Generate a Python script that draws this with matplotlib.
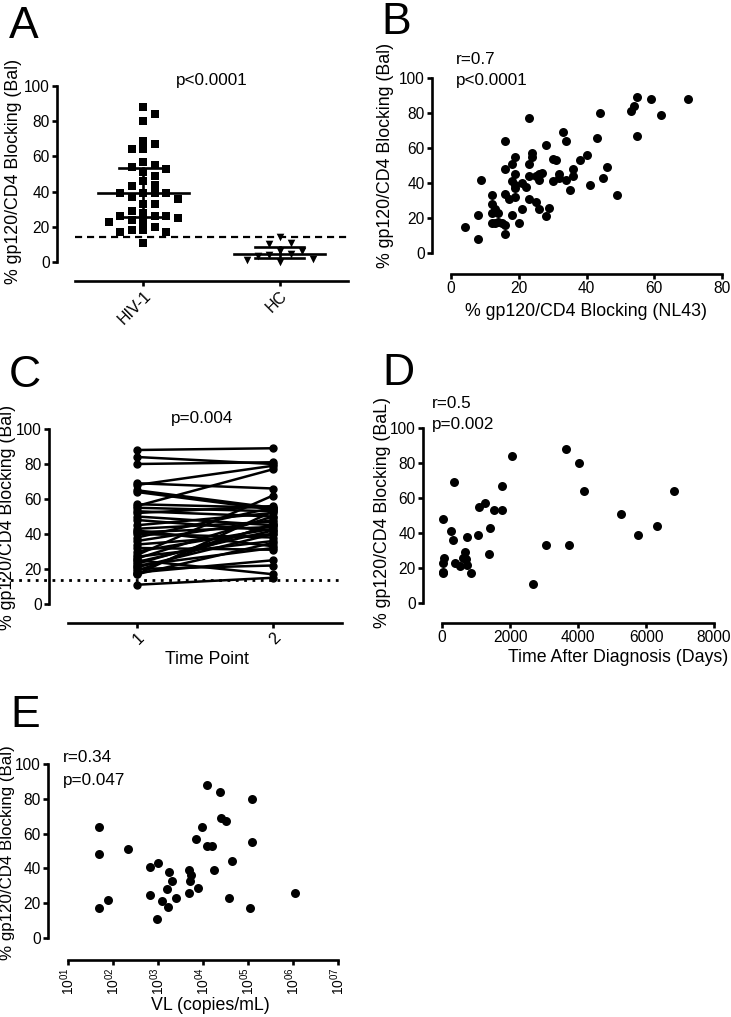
import numpy as np
import matplotlib
matplotlib.use("Agg")
import matplotlib.pyplot as plt
import matplotlib.transforms as mtransforms

plt.rcParams['font.family'] = ['Liberation Sans', 'DejaVu Sans']
plt.rcParams['mathtext.fontset'] = 'custom'
plt.rcParams['mathtext.rm'] = 'Liberation Sans'
plt.rcParams['mathtext.it'] = 'Liberation Sans:italic'

# ---------------- data ----------------
# Panel A
groups_A = ["HIV-1", "HC"]
hiv_vals = [88, 84, 80, 69, 67, 64, 64, 57, 55, 54, 53, 51, 49, 46, 44, 43, 39, 39, 39, 39,
            37, 36, 33, 33, 29, 28, 26, 26, 26, 25, 24, 23, 23, 20, 18, 18, 17, 17, 11]
hc_vals = [14, 11, 10, 6.5, 6, 4.5, 4, 3.5, 1.5, 1, 0]
cutoff_A = 14

# Panel B
nl43 = [4, 8, 8, 9, 12, 12, 12, 12, 13, 13, 14, 14, 15, 16, 16, 16, 16, 16, 17, 18, 18, 18,
        19, 19, 19, 19, 19, 20, 21, 21, 22, 23, 23, 23, 23, 24, 24, 25, 25, 26, 26, 26, 27, 28,
        28, 29, 30, 31, 30, 32, 32, 33, 34, 34, 35, 36, 36, 38, 40, 41, 43, 44, 45, 46, 49, 53,
        54, 55, 55, 59, 62, 70]
bal_B = [15, 8, 22, 42, 33, 28, 23, 17, 25, 17, 23, 18, 17, 11, 16, 64, 48, 34, 31, 22, 41, 51,
         45, 39, 32, 55, 37, 17, 25, 40, 38, 77, 51, 44, 31, 57, 55, 44, 29, 42, 25, 45, 46, 62,
         21, 26, 54, 53, 41, 45, 43, 69, 64, 42, 36, 48, 44, 53, 56, 39, 66, 80, 43, 49, 33, 81,
         84, 89, 67, 88, 79, 88]

# Panel C
timepoints = [1, 2]
tp1 = [88, 84, 80, 69, 68, 65, 64, 57, 56, 55, 53, 52, 50, 48, 45, 43, 42, 41, 40, 38, 36, 34,
       32, 30, 28, 27, 26, 25, 24, 23, 22, 21, 20, 19, 18, 17, 17, 11]
tp2 = [89, 80, 81, 66, 79, 55, 54, 55, 77, 53, 50, 56, 45, 42, 52, 47, 33, 44, 38, 55, 48, 40,
       31, 43, 62, 36, 50, 17, 42, 45, 32, 40, 22, 46, 25, 53, 35, 15]
cutoff_C = 14

# Panel D
days = [3638, 4020, 2059, 343, 1774, 4186, 6832, 1098, 1265, 1529, 1774, 5275, 39, 6333, 1412,
        255, 5765, 1068, 745, 324, 3059, 3735, 667, 1392, 627, 59, 715, 30, 373, 529, 745, 30,
        40, 853, 2686]
bal_D = [88, 80, 84, 69, 67, 64, 64, 55, 57, 53, 53, 51, 48, 44, 43, 41, 39, 39, 38, 36, 33, 33,
         29, 28, 26, 26, 25, 23, 23, 21, 22, 18, 17, 17, 11]

# Panel E
log_vl = [1.68, 1.68, 1.68, 1.88, 2.33, 2.82, 2.99, 2.82, 2.97, 3.08, 3.22, 3.19, 3.24, 3.30,
          3.39, 3.68, 3.68, 3.73, 3.71, 3.88, 3.84, 3.98, 4.08, 4.08, 4.21, 4.24, 4.38, 4.39,
          4.50, 4.65, 4.58, 5.04, 5.09, 5.09, 6.05]
bal_E = [64, 48, 17, 22, 51, 41, 43, 25, 11, 21, 18, 28, 38, 33, 23, 26, 39, 36, 33, 29, 57, 64,
         88, 53, 53, 39, 84, 69, 67, 44, 23, 17, 80, 55, 26]
vl_ticks = [1, 2, 3, 4, 5, 6, 7]

yticks = [0, 20, 40, 60, 80, 100]

# ---------------- figure ----------------
W, H = 731, 1017
DPI = 100
fig = plt.figure(figsize=(W / DPI, H / DPI), dpi=DPI)
PX = 72.0 / DPI  # points per pixel

FS_TICK = 11.2
FS_LAB = 12.8
FS_STAT = 12.3
LW = 1.9


def add_ax(left, right, top, bottom):
    return fig.add_axes([left / W, 1 - bottom / H, (right - left) / W, (bottom - top) / H])


def ftext(x, y, s, **kw):
    fig.text(x / W, 1 - y / H, s, **kw)


def style(ax, left_off, bottom_off):
    for s in ['top', 'right']:
        ax.spines[s].set_visible(False)
    ax.spines['left'].set_position(('outward', left_off * PX))
    ax.spines['bottom'].set_position(('outward', bottom_off * PX))
    ax.spines['left'].set_bounds(0, 100)
    for s in ['left', 'bottom']:
        ax.spines[s].set_linewidth(LW)
    ax.set_ylim(0, 100)
    ax.set_yticks(yticks)
    ax.tick_params(axis='both', direction='out', length=3.8, width=LW, labelsize=FS_TICK,
                   pad=1.5, color='black')
    ax.patch.set_visible(False)


def swarm(vals, center, xscale_px, yscale_px, dpx=12.0, xthr=10.0, ythr=7.0):
    order = np.argsort(vals)[::-1]
    placed = []
    xs = np.zeros(len(vals))
    cands = [0]
    for j in range(1, 10):
        cands += [j, -j]
    for i in order:
        y = vals[i] * yscale_px
        for c in cands:
            xp = c * dpx
            ok = True
            for (px_, py_) in placed:
                if abs(px_ - xp) < xthr and abs(py_ - y) < ythr:
                    ok = False
                    break
            if ok:
                placed.append((xp, y))
                xs[i] = center + xp / xscale_px
                break
    return xs


# ---------- Panel A ----------
axA = add_ax(75, 348, 86, 262)
style(axA, 18, 19)
axA.set_xlim(-0.5, 1.5)
xa = swarm(np.array(hiv_vals, float), 0, 136.0, 1.76, dpx=11.5, xthr=10, ythr=7.5)
axA.scatter(xa, hiv_vals, marker='s', s=36, color='black', linewidths=0, zorder=3, clip_on=False)
xh = swarm(np.array(hc_vals, float), 1, 136.0, 1.76, dpx=11, xthr=9, ythr=10)
axA.scatter(xh, hc_vals, marker='v', s=30, color='black', linewidths=0, zorder=3, clip_on=False)
for ci, vals in enumerate([hiv_vals, hc_vals]):
    med = np.median(vals)
    q1, q3 = np.percentile(vals, [25, 75])
    axA.plot([ci - 0.335, ci + 0.335], [med, med], color='black', lw=LW, zorder=4)
    axA.plot([ci - 0.18, ci + 0.18], [q1, q1], color='black', lw=LW, zorder=4)
    axA.plot([ci - 0.18, ci + 0.18], [q3, q3], color='black', lw=LW, zorder=4)
    axA.plot([ci, ci], [q1, q3], color='black', lw=LW, zorder=4)
axA.axhline(cutoff_A, color='black', lw=1.6, ls=(0, (3.2, 2.2)), zorder=2)
axA.set_xticks([0, 1])
axA.set_xticklabels(groups_A, rotation=45, ha='right', rotation_mode='anchor', fontsize=11.5)

# ---------- Panel B ----------
axB = add_ax(451, 722, 78, 253)
style(axB, 19, 21)
axB.set_xlim(0, 80)
axB.set_xticks([0, 20, 40, 60, 80])
axB.scatter(nl43, bal_B, s=42, color='black', linewidths=0, zorder=3, clip_on=False)

# ---------- Panel C ----------
axC = add_ax(68, 342, 429, 604)
style(axC, 19, 19)
axC.set_xlim(0.493, 2.507)
for a, b in zip(tp1, tp2):
    axC.plot(timepoints, [a, b], color='black', lw=1.8, marker='o', markersize=5, zorder=3,
             clip_on=False)
trC = mtransforms.blended_transform_factory(axC.transAxes, axC.transData)
axC.plot([-0.24, 1.0], [cutoff_C, cutoff_C], transform=trC, color='black', lw=2.0,
         ls=(0, (1.0, 2.0)), clip_on=False, zorder=2)
axC.set_xticks(timepoints)
axC.set_xticklabels([str(t) for t in timepoints], rotation=45, ha='right',
                    rotation_mode='anchor', fontsize=11.5)

# ---------- Panel D ----------
axD = add_ax(442, 714, 428, 603)
style(axD, 19, 20)
axD.set_xlim(0, 8000)
axD.set_xticks([0, 2000, 4000, 6000, 8000])
axD.scatter(days, bal_D, s=42, color='black', linewidths=0, zorder=3, clip_on=False)

# ---------- Panel E ----------
axE = add_ax(68, 338, 764, 938)
style(axE, 20, 22)
axE.set_xlim(1, 7)
axE.set_xticks(vl_ticks)
axE.set_xticklabels([r'$\mathregular{10^{%02d}}$' % t for t in vl_ticks], rotation=90,
                    fontsize=10)
axE.scatter(log_vl, bal_E, s=42, color='black', linewidths=0, zorder=3, clip_on=False)

# ---------- texts ----------
big = dict(fontsize=32, va='baseline', ha='left')
ftext(9, 38, 'A', **big)
ftext(381, 34, 'B', **big)
ftext(9, 387, 'C', **big)
ftext(382, 385, 'D', **big)
ftext(10, 727, 'E', **big)

ylab = '% gp120/CD4 Blocking (Bal)'
ylab_kw = dict(rotation=90, ha='center', va='center', fontsize=FS_LAB)
ftext(14, 171, ylab, **ylab_kw)
ftext(386, 155, ylab, **ylab_kw)
ftext(8, 517, ylab, **ylab_kw)
ftext(383, 512, '% gp120/CD4 Blocking (BaL)', **ylab_kw)
ftext(8, 853, ylab, rotation=90, ha='center', va='center', fontsize=12.2)

xl_kw = dict(ha='center', va='center', fontsize=FS_LAB)
ftext(586, 312, '% gp120/CD4 Blocking (NL43)', **xl_kw)
ftext(207, 660, 'Time Point', **xl_kw)
ftext(618, 658, 'Time After Diagnosis (Days)', **xl_kw)
ftext(210, 1006, 'VL (copies/mL)', **xl_kw)

st_kw = dict(va='center', fontsize=FS_STAT)
ftext(212, 81, 'p<0.0001', ha='center', **st_kw)
ftext(456, 60, 'r=0.7', ha='left', **st_kw)
ftext(456, 80, 'p<0.0001', ha='left', **st_kw)
ftext(202, 418, 'p=0.004', ha='center', **st_kw)
ftext(432, 403, 'r=0.5', ha='left', **st_kw)
ftext(432, 425, 'p=0.002', ha='left', **st_kw)
ftext(63, 758, 'r=0.34', ha='left', **st_kw)
ftext(63, 780, 'p=0.047', ha='left', **st_kw)

fig.savefig('out.png', dpi=DPI)
